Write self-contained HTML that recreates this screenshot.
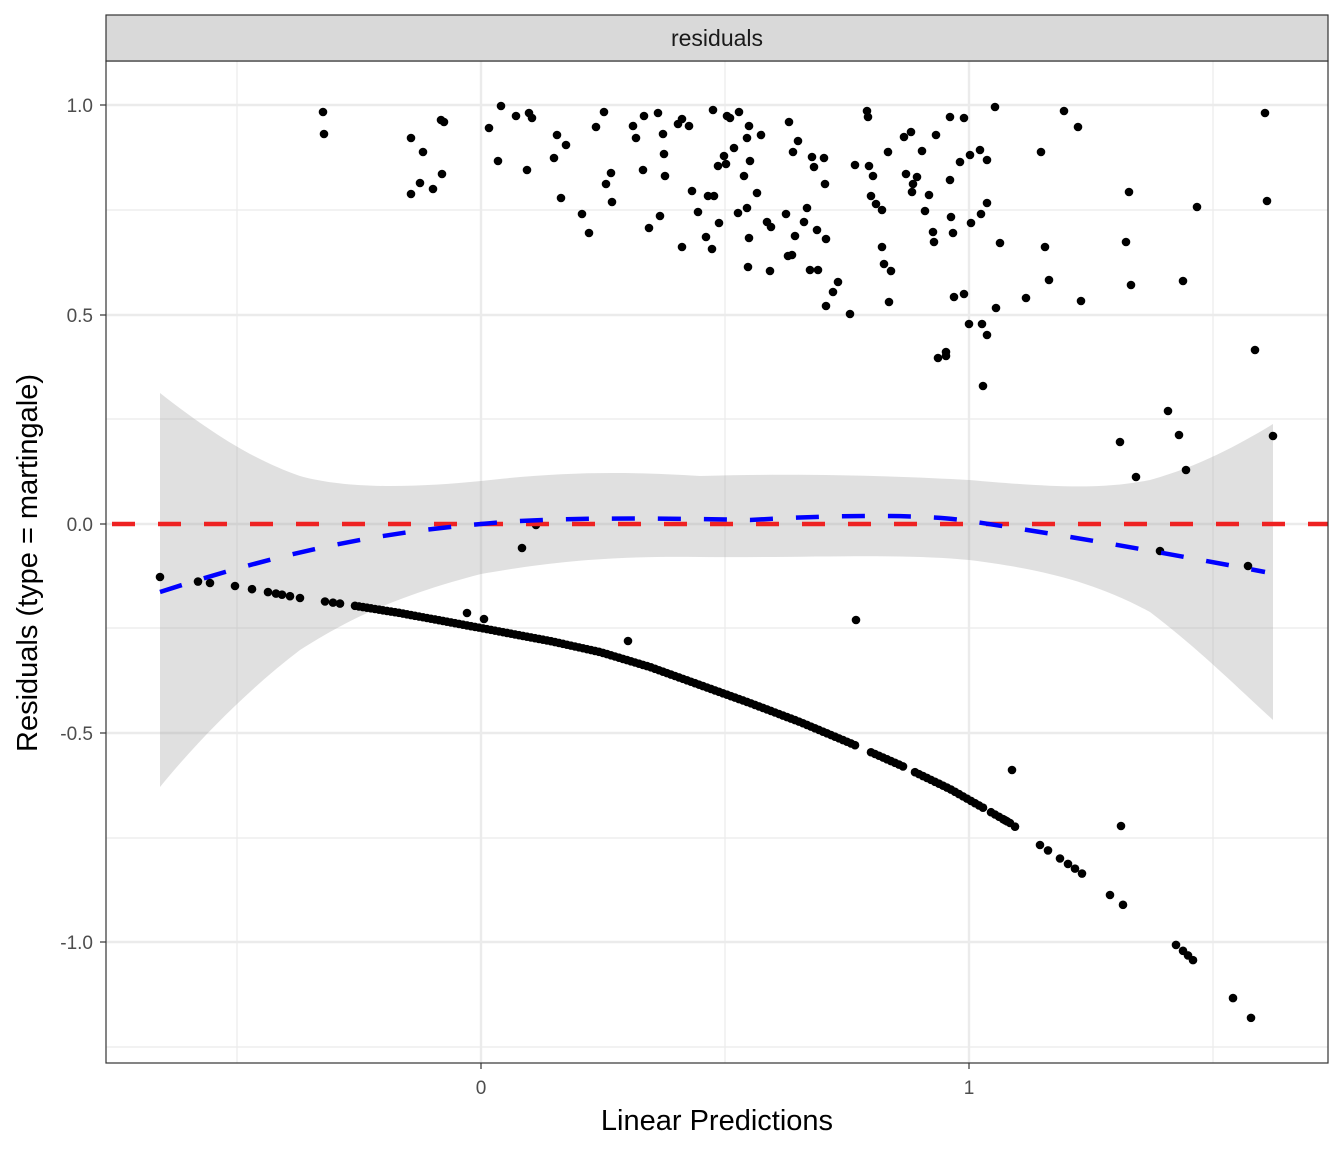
<!DOCTYPE html>
<html><head><meta charset="utf-8"><style>
html,body{margin:0;padding:0;background:#fff}
svg{display:block}
text{font-family:"Liberation Sans",sans-serif}
</style></head><body>
<svg id="s" width="1344" height="1152" xmlns="http://www.w3.org/2000/svg">
<rect x="106" y="61" width="1222" height="1002" fill="#fff"/>
<g stroke="#ebebeb" stroke-width="1.2">
<line x1="237" y1="61" x2="237" y2="1063"/><line x1="725" y1="61" x2="725" y2="1063"/><line x1="1213" y1="61" x2="1213" y2="1063"/>
<line x1="106" y1="210" x2="1328" y2="210"/><line x1="106" y1="419" x2="1328" y2="419"/><line x1="106" y1="628" x2="1328" y2="628"/><line x1="106" y1="838" x2="1328" y2="838"/><line x1="106" y1="1047" x2="1328" y2="1047"/>
</g>
<g stroke="#ebebeb" stroke-width="2.4">
<line x1="481" y1="61" x2="481" y2="1063"/><line x1="969" y1="61" x2="969" y2="1063"/>
<line x1="106" y1="105" x2="1328" y2="105"/><line x1="106" y1="315" x2="1328" y2="315"/><line x1="106" y1="524" x2="1328" y2="524"/><line x1="106" y1="733" x2="1328" y2="733"/><line x1="106" y1="942" x2="1328" y2="942"/>
</g>
<path fill="#999" fill-opacity="0.3" d="M160,393 C220,440 260,462 300,476 C350,490 420,487 481,481 C560,472 620,471 700,476 C800,473 900,476 969,480 C1050,487 1100,490 1150,480 C1200,466 1240,444 1273,424 L1273,720 C1240,690 1200,650 1150,612 C1100,585 1050,570 969,560 C900,553 800,558 700,557 C620,556 560,560 481,574 C400,595 350,618 300,650 C250,688 200,738 160,787 Z"/>
<g id="pts" fill="#000"></g>
<line x1="106" y1="524" x2="1328" y2="524" stroke="#ee2222" stroke-width="4.5" stroke-dasharray="23 23" stroke-dashoffset="-6"/>
<path d="M160,592 C250,563 350,535 481,524 C550,517 650,518 750,520 C850,514 930,515 969,521 C1050,533 1150,550 1265,572" fill="none" stroke="#0000ff" stroke-width="4.5" stroke-dasharray="23 23"/>
<rect x="106" y="61" width="1222" height="1002" fill="none" stroke="#333" stroke-width="1.2"/>
<rect x="106" y="15" width="1222" height="46" fill="#d9d9d9" stroke="#333" stroke-width="1.2"/>
<text x="717" y="46" font-size="23" text-anchor="middle" fill="#1a1a1a">residuals</text>
<g font-size="19" fill="#4d4d4d" text-anchor="end">
<text x="93" y="112">1.0</text><text x="93" y="322">0.5</text><text x="93" y="531">0.0</text><text x="93" y="740">-0.5</text><text x="93" y="949">-1.0</text>
</g>
<g stroke="#333" stroke-width="1.2">
<line x1="100" y1="105" x2="106" y2="105"/><line x1="100" y1="315" x2="106" y2="315"/><line x1="100" y1="524" x2="106" y2="524"/><line x1="100" y1="733" x2="106" y2="733"/><line x1="100" y1="942" x2="106" y2="942"/>
<line x1="481" y1="1063" x2="481" y2="1069"/><line x1="969" y1="1063" x2="969" y2="1069"/>
</g>
<g font-size="19" fill="#4d4d4d" text-anchor="middle"><text x="481" y="1094">0</text><text x="969" y="1094">1</text></g>
<text x="717" y="1130" font-size="29" text-anchor="middle" fill="#000">Linear Predictions</text>
<text transform="translate(37,563) rotate(-90)" font-size="29" text-anchor="middle" fill="#000">Residuals (type = martingale)</text>
</svg>
<script>
var g=document.getElementById('pts');
function dot(x,y){var c=document.createElementNS('http://www.w3.org/2000/svg','circle');c.setAttribute('cx',x);c.setAttribute('cy',y);c.setAttribute('r',4.3);g.appendChild(c);}
var curve=[[160,577],[235,586],[300,598],[350,605],[400,613],[481,628],[550,641],[600,652],[650,667],[700,685],[750,703],[800,722],[850,743],[900,765],[950,789],[980,806],[1010,823],[1040,845],[1080,872],[1110,895],[1180,948],[1195,962],[1235,1000],[1252,1019]];
function cy(x){for(var i=0;i<curve.length-1;i++){var a=curve[i],b=curve[i+1];if(x>=a[0]&&x<=b[0])return a[1]+(b[1]-a[1])*(x-a[0])/(b[0]-a[0]);}return 0;}
[160,198,210,235,252,268,276,282,290,300,325,333,340].forEach(function(x){dot(x,cy(x));});
for(var x=355;x<1010;x+=4){if((x>855&&x<868)||(x>905&&x<915)||(x>985&&x<990))continue;dot(x,cy(x));}
[1005,1010,1015,1040,1048,1060,1068,1075,1082,1110,1123,1176,1183,1188,1193,1233,1251].forEach(function(x){dot(x,cy(x));});
var up=[[323,112],[324,134],[411,138],[423,152],[441,120],[444,122],[420,183],[411,194],[433,189],[442,174],[489,128],[501,106],[516,116],[529,113],[532,118],[498,161],[527,170],[557,135],[566,145],[554,158],[561,198],[582,214],[589,233],[596,127],[604,112],[606,184],[611,173],[612,202],[633,126],[636,138],[644,116],[658,113],[643,170],[649,228],[660,216],[663,134],[664,154],[665,176],[678,124],[682,119],[689,126],[682,247],[692,191],[698,212],[706,237],[708,196],[713,110],[714,196],[712,249],[719,223],[718,166],[724,156],[727,116],[730,118],[726,164],[734,148],[739,112],[744,176],[747,138],[749,126],[750,161],[747,208],[738,213],[749,238],[748,267],[757,193],[761,135],[767,222],[771,227],[770,271],[786,214],[789,122],[788,256],[792,255],[793,152],[795,236],[798,141],[804,222],[807,208],[812,157],[814,167],[817,230],[824,158],[825,184],[826,239],[810,270],[818,270],[833,292],[838,282],[826,306],[850,314],[855,165],[867,111],[868,117],[869,166],[871,196],[873,176],[876,204],[882,210],[882,247],[884,264],[888,152],[889,302],[891,271],[904,137],[906,174],[911,132],[912,192],[913,184],[917,177],[922,151],[925,211],[929,195],[933,232],[934,242],[936,135],[938,358],[946,352],[946,356],[950,117],[950,180],[951,217],[953,233],[954,297],[960,162],[964,118],[964,294],[970,155],[971,223],[969,324],[980,150],[981,214],[982,324],[983,386],[987,203],[987,160],[987,335],[995,107],[996,308],[1000,243],[1026,298],[1041,152],[1045,247],[1049,280],[1064,111],[1078,127],[1081,301],[1120,442],[1126,242],[1129,192],[1131,285],[1136,477],[1160,551],[1168,411],[1179,435],[1183,281],[1186,470],[1197,207],[1248,566],[1255,350],[1265,113],[1267,201],[1273,436],[467,613],[484,619],[522,548],[536,525],[628,641],[856,620],[1012,770],[1121,826]];
up.forEach(function(p){dot(p[0],p[1]);});
</script>
</body></html>
